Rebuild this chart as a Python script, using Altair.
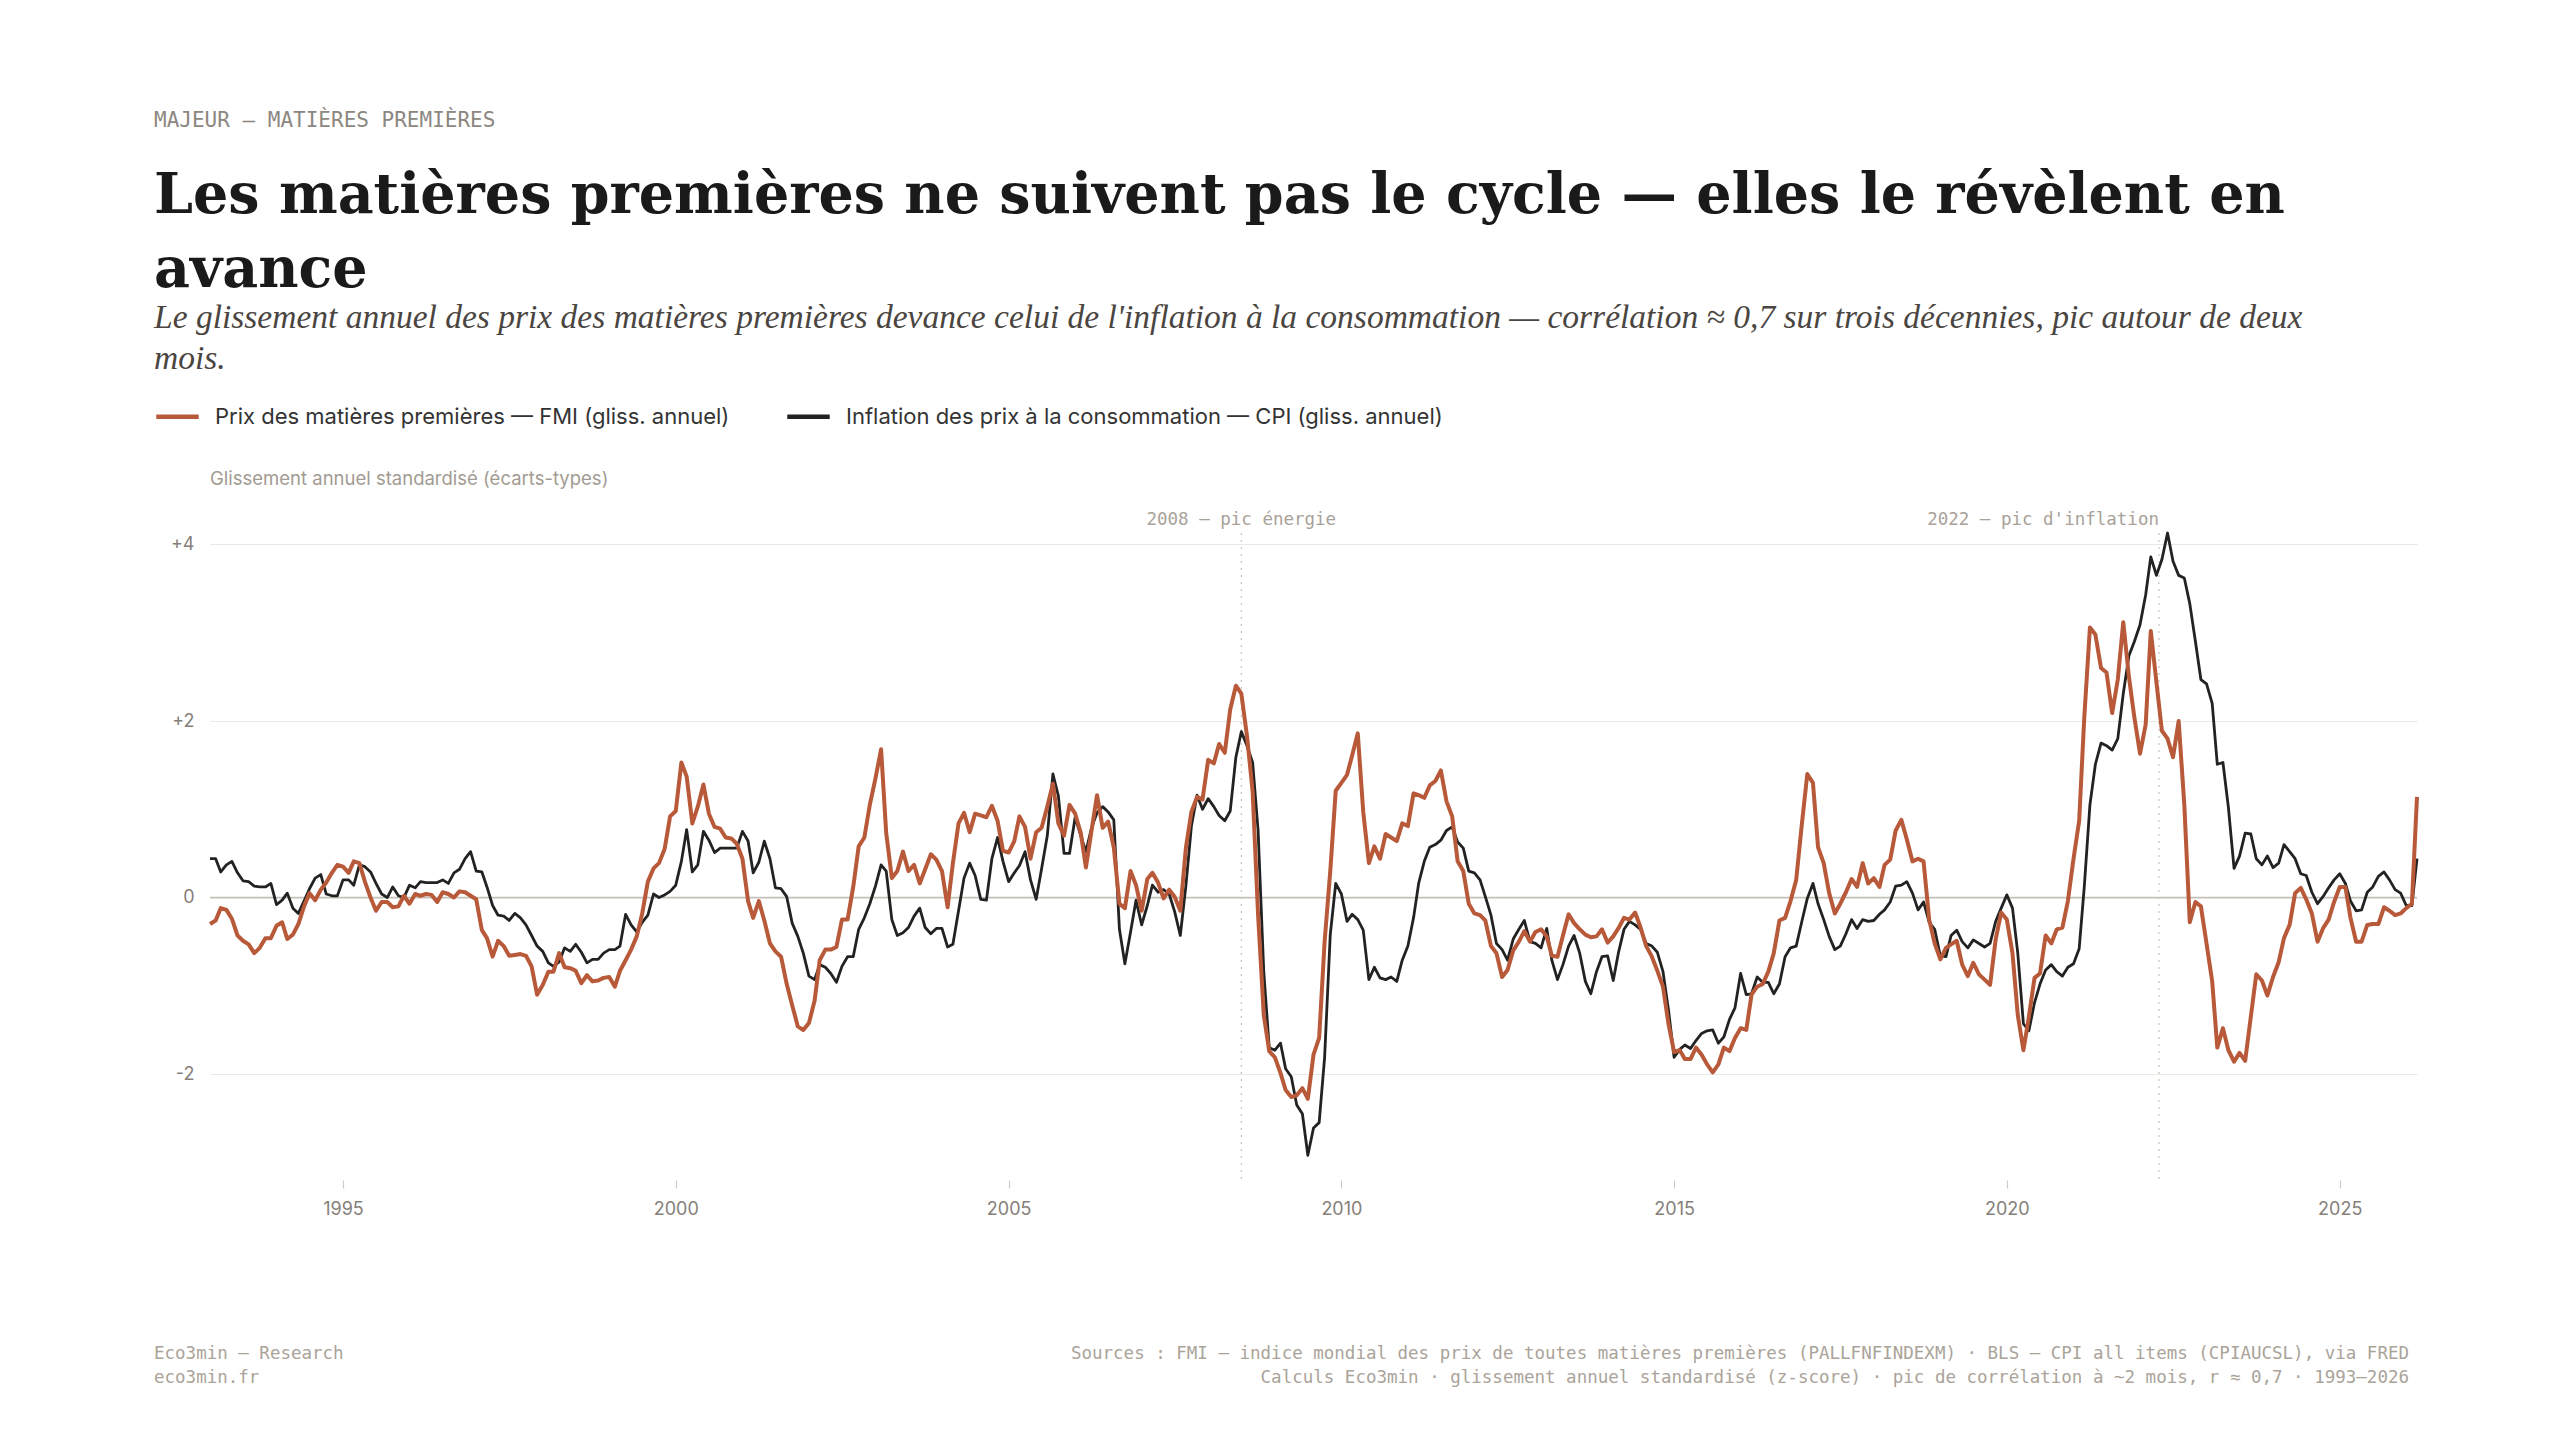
import pandas as pd
import altair as alt

# glissement annuel standardisé, mensuel, janvier 1993 -> mars 2026 (une ligne = une année)
commo_z = [
    -0.30, -0.26, -0.12, -0.14, -0.24, -0.43, -0.49, -0.53, -0.63, -0.57, -0.46, -0.46,  # 1993
    -0.32, -0.28, -0.47, -0.42, -0.30, -0.10, 0.05, -0.03, 0.09, 0.17, 0.28, 0.37,       # 1994
    0.35, 0.28, 0.41, 0.39, 0.18, 0.00, -0.15, -0.05, -0.05, -0.11, -0.10, 0.02,         # 1995
    -0.07, 0.04, 0.02, 0.04, 0.03, -0.05, 0.06, 0.04, 0.00, 0.07, 0.06, 0.02,            # 1996
    -0.02, -0.37, -0.46, -0.67, -0.49, -0.55, -0.66, -0.65, -0.64, -0.66, -0.78, -1.10,  # 1997
    -0.99, -0.84, -0.84, -0.63, -0.79, -0.80, -0.83, -0.97, -0.88, -0.95, -0.94, -0.91,  # 1998
    -0.90, -1.01, -0.83, -0.71, -0.59, -0.44, -0.18, 0.18, 0.33, 0.39, 0.55, 0.92,       # 1999
    0.98, 1.53, 1.37, 0.84, 1.03, 1.28, 0.95, 0.80, 0.78, 0.68, 0.67, 0.61,              # 2000
    0.44, -0.04, -0.23, -0.04, -0.26, -0.52, -0.61, -0.67, -0.98, -1.22, -1.46, -1.50,   # 2001
    -1.42, -1.17, -0.71, -0.59, -0.59, -0.56, -0.25, -0.25, 0.12, 0.58, 0.68, 1.05,      # 2002
    1.35, 1.68, 0.73, 0.22, 0.30, 0.52, 0.30, 0.37, 0.16, 0.32, 0.49, 0.43,              # 2003
    0.30, -0.11, 0.39, 0.84, 0.96, 0.74, 0.95, 0.93, 0.91, 1.04, 0.87, 0.53,             # 2004
    0.51, 0.64, 0.92, 0.80, 0.44, 0.74, 0.79, 1.03, 1.29, 0.84, 0.70, 1.05,              # 2005
    0.95, 0.73, 0.34, 0.76, 1.16, 0.79, 0.86, 0.57, -0.07, -0.12, 0.30, 0.14,            # 2006
    -0.15, 0.21, 0.28, 0.17, -0.01, 0.09, 0.01, -0.15, 0.57, 0.97, 1.14, 1.11,           # 2007
    1.56, 1.52, 1.74, 1.64, 2.13, 2.40, 2.31, 1.83, 1.20, -0.20, -1.33, -1.74,           # 2008
    -1.81, -1.99, -2.18, -2.26, -2.24, -2.16, -2.28, -1.78, -1.59, -0.50, 0.30, 1.21,    # 2009
    1.30, 1.39, 1.61, 1.86, 0.97, 0.39, 0.58, 0.44, 0.72, 0.68, 0.64, 0.84,              # 2010
    0.81, 1.18, 1.16, 1.13, 1.27, 1.32, 1.44, 1.09, 0.92, 0.41, 0.30, -0.07,             # 2011
    -0.18, -0.20, -0.26, -0.55, -0.63, -0.90, -0.82, -0.60, -0.50, -0.38, -0.50, -0.39,  # 2012
    -0.36, -0.44, -0.66, -0.67, -0.43, -0.19, -0.29, -0.36, -0.42, -0.45, -0.44, -0.36,  # 2013
    -0.51, -0.44, -0.35, -0.23, -0.25, -0.17, -0.34, -0.55, -0.67, -0.83, -1.01, -1.43,  # 2014
    -1.75, -1.73, -1.83, -1.83, -1.70, -1.78, -1.89, -1.98, -1.89, -1.70, -1.74, -1.59,  # 2015
    -1.48, -1.50, -1.10, -1.01, -0.98, -0.84, -0.63, -0.26, -0.23, -0.04, 0.20, 0.81,    # 2016
    1.40, 1.30, 0.57, 0.39, 0.05, -0.18, -0.07, 0.06, 0.21, 0.12, 0.39, 0.16,            # 2017
    0.22, 0.12, 0.37, 0.43, 0.76, 0.88, 0.66, 0.41, 0.44, 0.41, -0.25, -0.52,            # 2018
    -0.70, -0.57, -0.53, -0.49, -0.76, -0.89, -0.74, -0.87, -0.93, -0.99, -0.47, -0.17,  # 2019
    -0.25, -0.63, -1.33, -1.73, -1.35, -0.91, -0.86, -0.43, -0.52, -0.36, -0.34, -0.04,  # 2020
    0.44, 0.87, 2.04, 3.06, 2.98, 2.60, 2.55, 2.09, 2.47, 3.12, 2.50, 2.04,              # 2021
    1.63, 1.96, 3.02, 2.44, 1.89, 1.80, 1.59, 2.00, 1.05, -0.28, -0.05, -0.10,           # 2022
    -0.52, -0.95, -1.70, -1.48, -1.73, -1.86, -1.76, -1.85, -1.35, -0.87, -0.94, -1.11,  # 2023
    -0.90, -0.73, -0.46, -0.31, 0.05, 0.11, -0.02, -0.18, -0.50, -0.35, -0.25, -0.05,    # 2024
    0.12, 0.12, -0.23, -0.50, -0.50, -0.31, -0.30, -0.30, -0.11, -0.15, -0.20, -0.18,    # 2025
    -0.12, -0.07, 1.14,                                                                  # 2026
]

cpi_z = [
    0.44, 0.44, 0.29, 0.37, 0.41, 0.28, 0.19, 0.18, 0.13, 0.12, 0.12, 0.16,              # 1993
    -0.08, -0.03, 0.05, -0.12, -0.18, -0.04, 0.10, 0.22, 0.26, 0.04, 0.02, 0.02,         # 1994
    0.20, 0.20, 0.14, 0.37, 0.35, 0.29, 0.16, 0.04, 0.00, 0.12, 0.02, 0.00,              # 1995
    0.14, 0.11, 0.18, 0.17, 0.17, 0.17, 0.20, 0.16, 0.28, 0.32, 0.44, 0.52,              # 1996
    0.30, 0.29, 0.12, -0.09, -0.20, -0.21, -0.26, -0.18, -0.23, -0.31, -0.43, -0.55,     # 1997
    -0.61, -0.74, -0.78, -0.73, -0.57, -0.61, -0.53, -0.62, -0.74, -0.70, -0.70, -0.63,  # 1998
    -0.59, -0.59, -0.55, -0.19, -0.31, -0.39, -0.28, -0.20, 0.04, 0.00, 0.03, 0.07,      # 1999
    0.14, 0.41, 0.77, 0.29, 0.37, 0.75, 0.65, 0.51, 0.56, 0.56, 0.56, 0.56,              # 2000
    0.75, 0.64, 0.28, 0.40, 0.64, 0.44, 0.11, 0.10, 0.01, -0.29, -0.44, -0.63,           # 2001
    -0.89, -0.93, -0.76, -0.79, -0.86, -0.96, -0.78, -0.67, -0.67, -0.36, -0.23, -0.07,  # 2002
    0.13, 0.37, 0.30, -0.25, -0.43, -0.40, -0.34, -0.21, -0.12, -0.34, -0.41, -0.35,     # 2003
    -0.35, -0.56, -0.53, -0.15, 0.22, 0.39, 0.25, -0.02, -0.03, 0.44, 0.68, 0.41,        # 2004
    0.18, 0.28, 0.36, 0.52, 0.20, -0.02, 0.33, 0.70, 1.40, 1.15, 0.50, 0.50,             # 2005
    0.91, 0.70, 0.52, 0.79, 0.96, 1.03, 0.97, 0.88, -0.36, -0.75, -0.39, -0.03,          # 2006
    -0.31, -0.09, 0.14, 0.06, 0.09, 0.04, -0.16, -0.43, 0.14, 0.81, 1.16, 1.00,          # 2007
    1.12, 1.03, 0.93, 0.87, 0.98, 1.59, 1.88, 1.72, 1.53, 0.76, -0.84, -1.70,            # 2008
    -1.73, -1.65, -1.94, -2.03, -2.35, -2.45, -2.92, -2.61, -2.55, -1.81, -0.42, 0.16,   # 2009
    0.04, -0.27, -0.19, -0.25, -0.37, -0.93, -0.79, -0.91, -0.93, -0.90, -0.95, -0.71,   # 2010
    -0.55, -0.23, 0.16, 0.41, 0.57, 0.60, 0.65, 0.76, 0.80, 0.63, 0.56, 0.30,            # 2011
    0.28, 0.20, 0.01, -0.20, -0.52, -0.59, -0.71, -0.47, -0.36, -0.26, -0.50, -0.52,     # 2012
    -0.57, -0.35, -0.71, -0.93, -0.76, -0.55, -0.43, -0.63, -0.95, -1.09, -0.84, -0.67,  # 2013
    -0.66, -0.94, -0.63, -0.36, -0.27, -0.31, -0.36, -0.52, -0.55, -0.62, -0.84, -1.27,  # 2014
    -1.81, -1.72, -1.67, -1.71, -1.62, -1.54, -1.51, -1.50, -1.65, -1.58, -1.38, -1.25,  # 2015
    -0.86, -1.10, -1.09, -0.90, -0.96, -0.96, -1.09, -0.98, -0.67, -0.57, -0.55, -0.28,  # 2016
    -0.01, 0.16, -0.07, -0.25, -0.44, -0.59, -0.55, -0.41, -0.25, -0.35, -0.25, -0.27,   # 2017
    -0.26, -0.19, -0.14, -0.05, 0.13, 0.14, 0.18, 0.05, -0.14, -0.05, -0.28, -0.36,      # 2018
    -0.66, -0.67, -0.43, -0.37, -0.50, -0.57, -0.48, -0.52, -0.56, -0.52, -0.27, -0.12,  # 2019
    0.03, -0.12, -0.63, -1.43, -1.51, -1.19, -0.98, -0.82, -0.76, -0.84, -0.89, -0.79,   # 2020
    -0.75, -0.58, 0.12, 1.05, 1.51, 1.75, 1.72, 1.67, 1.80, 2.31, 2.74, 2.90,            # 2021
    3.09, 3.43, 3.86, 3.65, 3.83, 4.13, 3.81, 3.65, 3.62, 3.33, 2.90, 2.47,              # 2022
    2.42, 2.20, 1.51, 1.53, 1.02, 0.33, 0.47, 0.73, 0.72, 0.44, 0.37, 0.47,              # 2023
    0.34, 0.39, 0.60, 0.52, 0.44, 0.27, 0.25, 0.06, -0.07, 0.01, 0.11, 0.20,             # 2024
    0.27, 0.16, -0.04, -0.15, -0.14, 0.06, 0.12, 0.24, 0.29, 0.20, 0.09, 0.05,           # 2025
    -0.09, -0.09, 0.44,                                                                  # 2026
]

series_names = [
    "Prix des matières premières — FMI (gliss. annuel)",
    "Inflation des prix à la consommation — CPI (gliss. annuel)",
]
tick_years = [1995, 2000, 2005, 2010, 2015, 2020, 2025]
y_ticks = [-2, 0, 2, 4]
event_dates = ["2008-07-01", "2022-04-15"]
event_labels = ["2008 — pic énergie", "2022 — pic d'inflation"]

kicker = "MAJEUR — MATIÈRES PREMIÈRES"
title_lines = ["Les matières premières ne suivent pas le cycle — elles le révèlent en", "avance"]
subtitle_lines = [
    "Le glissement annuel des prix des matières premières devance celui de l'inflation à la consommation — corrélation ≈ 0,7 sur trois décennies, pic autour de deux",
    "mois.",
]
y_title = "Glissement annuel standardisé (écarts-types)"
footer_left = ["Eco3min — Research", "eco3min.fr"]
footer_right = [
    "Sources : FMI — indice mondial des prix de toutes matières premières (PALLFNFINDEXM) · BLS — CPI all items (CPIAUCSL), via FRED",
    "Calculs Eco3min · glissement annuel standardisé (z-score) · pic de corrélation à ~2 mois, r ≈ 0,7 · 1993–2026",
]

ORANGE = "#b85a3a"
DARK = "#222222"
MONO = "DejaVu Sans Mono"
SANS = "Inter"
SERIF = "Liberation Serif"
TITLE_SERIF = "DejaVu Serif"

W, H = 2207, 647

dates = pd.date_range("1993-01-01", periods=len(cpi_z), freq="MS")
df_commo = pd.DataFrame({"date": dates, "z": commo_z, "serie": series_names[0]})
df_cpi = pd.DataFrame({"date": dates, "z": cpi_z, "serie": series_names[1]})
df_events = pd.DataFrame({"date": pd.to_datetime(event_dates), "label": event_labels})

x_scale = alt.Scale(
    domain=[alt.DateTime(year=1993, month=1, date=1), alt.DateTime(year=2026, month=3, date=1)],
    nice=False,
)
y_scale = alt.Scale(domain=[-3.2, 4.13], nice=False, zero=False)

color = alt.Color(
    "serie:N",
    scale=alt.Scale(domain=series_names, range=[ORANGE, DARK]),
    legend=alt.Legend(
        orient="none", legendX=-56, legendY=-140, direction="horizontal", title=None,
        symbolType="stroke", symbolStrokeWidth=4.5, symbolSize=1800,
        labelFont=SANS, labelFontSize=22, labelColor="#333333", labelOffset=14,
        labelLimit=1500, columnPadding=48, padding=0,
    ),
)

x_enc = alt.X(
    "date:T", scale=x_scale, title=None,
    axis=alt.Axis(
        values=[alt.DateTime(year=y, month=1, date=1) for y in tick_years], format="%Y",
        grid=False, domain=False, tickSize=8, tickColor="#cfcac2", tickWidth=1.2,
        labelFont=SANS, labelFontSize=18, labelColor="#85807a", labelPadding=12,
    ),
)
y_enc = alt.Y(
    "z:Q", scale=y_scale, title=None,
    axis=alt.Axis(
        values=y_ticks, grid=True, gridColor="#ebe8e2", gridWidth=1.2, domain=False, ticks=False,
        labelFont=SANS, labelFontSize=18, labelColor="#85807a", labelPadding=16,
        labelExpr="datum.value > 0 ? '+' + datum.value : '' + datum.value",
    ),
)

cpi_line = alt.Chart(df_cpi).mark_line(strokeWidth=2.8, strokeJoin="round").encode(
    x=x_enc, y=y_enc, color=color
)
commo_line = alt.Chart(df_commo).mark_line(strokeWidth=4, strokeJoin="round").encode(
    x=alt.X("date:T", scale=x_scale), y=alt.Y("z:Q", scale=y_scale), color=color
)

zero_rule = alt.Chart(pd.DataFrame({"z": [0]})).mark_rule(color="#c4c1bb", strokeWidth=1.6).encode(
    y=alt.Y("z:Q", scale=y_scale)
)

event_rules = alt.Chart(df_events).mark_rule(color="#c8c4bd", strokeWidth=1.2, strokeDash=[2, 5]).encode(
    x=alt.X("date:T", scale=x_scale)
)
event_text_2008 = alt.Chart(df_events.iloc[[0]]).mark_text(
    align="center", baseline="alphabetic", font=MONO, fontSize=17.5, color="#a8a29a"
).encode(x=alt.X("date:T", scale=x_scale), y=alt.value(-8), text="label:N")
event_text_2022 = alt.Chart(df_events.iloc[[1]]).mark_text(
    align="right", baseline="alphabetic", font=MONO, fontSize=17.5, color="#a8a29a"
).encode(x=alt.X("date:T", scale=x_scale), y=alt.value(-8), text="label:N")


def text_line(txt, x, y, size, font, col, align="left", weight="normal", style="normal"):
    return alt.Chart(pd.DataFrame({"t": [txt]})).mark_text(
        align=align, baseline="alphabetic", font=font, fontSize=size, color=col,
        fontWeight=weight, fontStyle=style,
    ).encode(x=alt.value(x), y=alt.value(y), text="t:N")


texts = [
    text_line(kicker, -56, -406, 21, MONO, "#8c8780"),
    text_line(title_lines[0], -56, -320, 55.5, TITLE_SERIF, "#1a1a1a", weight="bold"),
    text_line(title_lines[1], -56, -246, 55.5, TITLE_SERIF, "#1a1a1a", weight="bold"),
    text_line(subtitle_lines[0], -56, -205, 33.5, SERIF, "#4a4541", style="italic"),
    text_line(subtitle_lines[1], -56, -164, 33.5, SERIF, "#4a4541", style="italic"),
    text_line(y_title, 0, -48, 18.5, SANS, "#a29b92"),
    text_line(footer_left[0], -56, 826, 17.5, MONO, "#aaa399"),
    text_line(footer_left[1], -56, 850, 17.5, MONO, "#aaa399"),
    text_line(footer_right[0], W - 8, 826, 17.5, MONO, "#aaa399", align="right"),
    text_line(footer_right[1], W - 8, 850, 17.5, MONO, "#aaa399", align="right"),
]

chart = alt.layer(
    zero_rule, event_rules, cpi_line, commo_line, event_text_2008, event_text_2022, *texts
).properties(
    width=W,
    height=H,
    padding={"left": 202, "top": 525, "right": 120, "bottom": 230},
    autosize=alt.AutoSizeParams(type="none"),
    background="#ffffff",
).configure_view(stroke=None)

chart.save("out.html", embed_options={"renderer": "svg", "actions": False})
